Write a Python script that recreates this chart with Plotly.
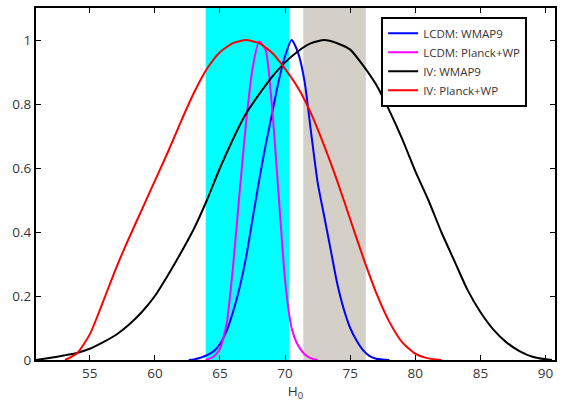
import plotly.graph_objects as go

# ---- data ----
lcdm_wmap9_h = [62.6, 63.0, 63.5, 64.0, 64.5, 65.0, 65.5, 66.0, 66.5, 67.0, 67.5, 68.0, 68.5, 69.0, 69.5, 70.0, 70.5,
                71.0, 71.5, 72.0, 72.5, 73.0, 73.5, 74.0, 74.5, 75.0, 75.5, 76.0, 76.5, 77.0, 78.0]
lcdm_wmap9_p = [0.0, 0.002, 0.007, 0.015, 0.027, 0.05, 0.09, 0.15, 0.225, 0.32, 0.44, 0.56, 0.67, 0.77, 0.87, 0.95, 1.0,
                0.96, 0.87, 0.71, 0.555, 0.45, 0.345, 0.24, 0.16, 0.1, 0.06, 0.03, 0.012, 0.004, 0.0]

lcdm_planck_h = [63.9, 64.5, 65.0, 65.5, 66.0, 66.5, 67.0, 67.5, 68.0, 68.5, 69.0, 69.5, 70.0, 70.5, 71.0, 71.5, 72.0, 72.5]
lcdm_planck_p = [0.0, 0.01, 0.035, 0.11, 0.29, 0.52, 0.74, 0.91, 0.995, 0.97, 0.79, 0.52, 0.25, 0.1, 0.045, 0.018, 0.005, 0.0]

iv_wmap9_h = [50.87, 52, 53, 54, 55, 56, 57, 58, 59, 60, 61, 62, 63, 64, 65, 66, 67, 68, 69, 70, 71, 72, 73,
              74, 75, 76, 77, 78, 79, 80, 81, 82, 83, 84, 85, 86, 87, 88, 89, 90, 90.5]
iv_wmap9_p = [0.0, 0.007, 0.014, 0.022, 0.035, 0.055, 0.078, 0.11, 0.15, 0.2, 0.265, 0.335, 0.41, 0.5, 0.6, 0.69,
              0.77, 0.83, 0.885, 0.93, 0.965, 0.99, 1.0, 0.99, 0.97, 0.92, 0.86, 0.78, 0.69, 0.59, 0.5, 0.4, 0.31,
              0.22, 0.15, 0.095, 0.055, 0.028, 0.01, 0.002, 0.0]

iv_planck_h = [53.1, 54, 55, 56, 57, 58, 59, 60, 61, 62, 63, 64, 65, 66, 67, 68, 69, 70, 71, 72, 73, 74, 75,
               76, 77, 78, 79, 80, 81, 82]
iv_planck_p = [0.0, 0.02, 0.08, 0.18, 0.285, 0.38, 0.47, 0.56, 0.65, 0.745, 0.835, 0.91, 0.962, 0.99, 1.0, 0.99,
               0.96, 0.91, 0.85, 0.77, 0.67, 0.56, 0.44, 0.32, 0.21, 0.12, 0.055, 0.02, 0.005, 0.0]

cyan_band = [63.9, 70.3]
gray_band = [71.4, 76.2]

x_ticks = [55, 60, 65, 70, 75, 80, 85, 90]
y_ticks = [0, 0.2, 0.4, 0.6, 0.8, 1]
y_tick_text = ["0", "0.2", "0.4", "0.6", "0.8", "1"]

series = [
    ("LCDM: WMAP9", lcdm_wmap9_h, lcdm_wmap9_p, "#0000ff"),
    ("LCDM: Planck+WP", lcdm_planck_h, lcdm_planck_p, "#ff00ff"),
    ("IV: WMAP9", iv_wmap9_h, iv_wmap9_p, "#000000"),
    ("IV: Planck+WP", iv_planck_h, iv_planck_p, "#ff0000"),
]

fig = go.Figure()
for name, xs, ys, col in series:
    fig.add_trace(go.Scatter(x=xs, y=ys, mode="lines", name=name,
                             line=dict(color=col, width=2, shape="spline", smoothing=0.6)))

fig.add_shape(type="rect", xref="x", yref="paper", x0=cyan_band[0], x1=cyan_band[1], y0=0, y1=1,
              fillcolor="#00ffff", line_width=0, layer="below")
fig.add_shape(type="rect", xref="x", yref="paper", x0=gray_band[0], x1=gray_band[1], y0=0, y1=1,
              fillcolor="#d4d0c8", line_width=0, layer="below")

tickfont = dict(family="Open Sans, Lato, sans-serif", size=13.5, color="#3a3535")
fig.update_layout(
    width=562, height=404,
    margin=dict(l=36, r=5, t=8, b=44),
    paper_bgcolor="white", plot_bgcolor="white",
    showlegend=True,
    legend=dict(x=0.665, y=0.975, xanchor="left", yanchor="top",
                bgcolor="white", bordercolor="black", borderwidth=2,
                font=dict(family="Open Sans, Lato, sans-serif", size=11.5, color="#3a3535"),
                tracegroupgap=0, itemwidth=30),
    xaxis=dict(range=[50.87, 90.73], tickvals=x_ticks, ticks="inside", ticklen=5,
               tickcolor="black", showline=True, linecolor="black", linewidth=2,
               mirror="ticks", showgrid=False, zeroline=False, tickfont=tickfont,
               title=dict(text="H<sub>0</sub>", font=tickfont, standoff=2)),
    yaxis=dict(range=[0, 1.1], tickvals=y_ticks, ticktext=y_tick_text, ticks="inside", ticklen=5,
               tickcolor="black", showline=True, linecolor="black", linewidth=2,
               mirror="ticks", showgrid=False, zeroline=False, tickfont=tickfont),
)

fig.write_html("out.html", config={"displayModeBar": False},
               post_script="document.body.style.margin='0px';")
